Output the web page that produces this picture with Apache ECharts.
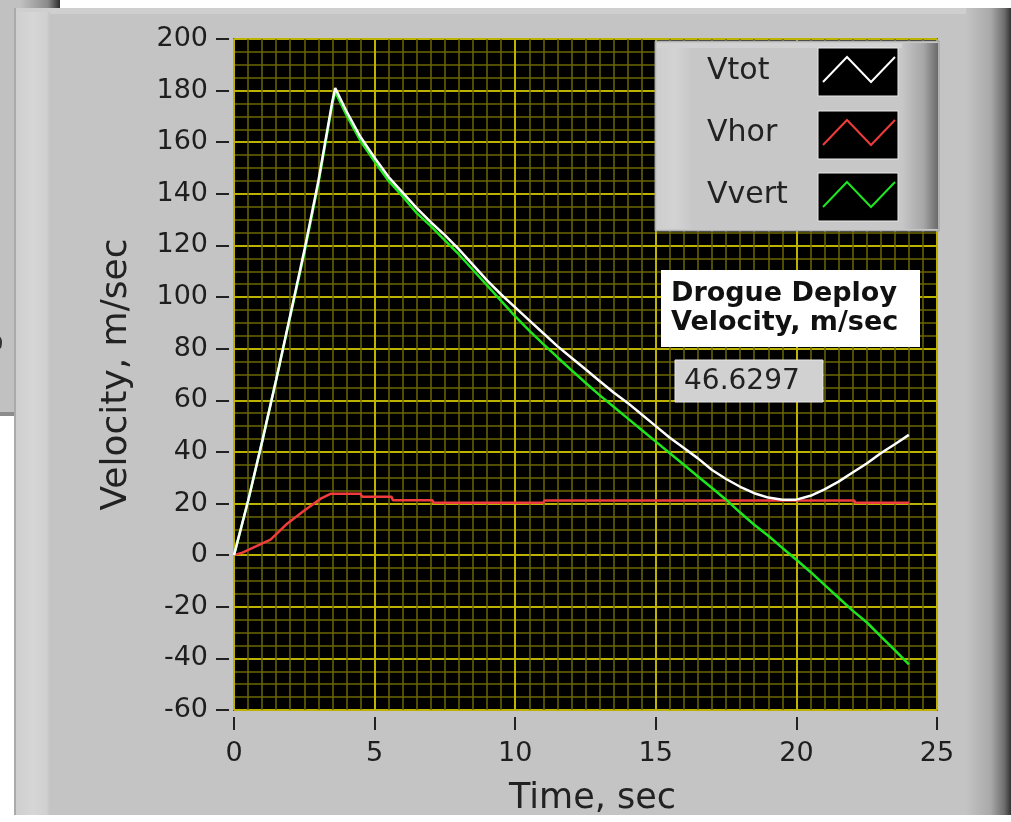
<!DOCTYPE html>
<html><head><meta charset="utf-8">
<script src="https://cdn.jsdelivr.net/npm/echarts@6/dist/echarts.min.js"></script>
<style>html,body{margin:0;padding:0;background:#fff}#c{width:1011px;height:822px}</style>
</head><body><div id="c"></div>
<script>
// ---- data ----
const timeMain = [0,0.5,1,1.5,2,2.5,3,3.5,3.6,4,4.5,5,5.5,6,6.5,7,7.5,8,8.5,9,9.5,10,10.5,11,11.5,12,12.5,13,13.5,14,14.5,15,15.5,16,16.5,17,17.5,18,18.5,19,19.5,20,20.5,21,21.5,22,22.5,23,23.5,24];
const vtot  = [0,21,44,68,93,118,145,176,181,172,162,154,146.5,140.5,134.5,129,124,118.5,112.5,106.5,101,96,91,86,81,76.5,72,67.5,63,59,54.5,50,45.5,41.5,37.5,33,29.5,26.5,24,22.3,21.5,21.5,23,25.5,28.5,32,35.5,39.5,43,46.6];
const vvert = [0,21,44,68,92.5,117,144,175,179.5,170.5,160.5,152.5,145,139,132.5,127.5,122,116.5,110.5,104.5,98.5,92.5,87,81.8,76.7,71.7,66.8,62,57.5,53,48.5,44,39.5,35,30.5,26,21.5,16.5,11.8,7.5,2.8,-1.8,-6.5,-11.5,-16.5,-21.5,-26,-31.5,-36.8,-42.3];
const timeHor = [0,0.3,0.7,1.3,1.9,2.5,3.1,3.45,4.5,4.55,5.6,5.65,7.05,7.1,11.0,11.05,22.05,22.1,24];
const vhor    = [0,1,3,6,12.3,17.3,22,23.8,23.8,22.6,22.6,21.3,21.3,20.3,20.3,21.2,21.2,20.3,20.3];
const seriesNames = ['Vtot','Vhor','Vvert'];
const seriesColors = ['#ffffff','#f03c3c','#1ee61e'];
const yTicks = {min:-60, max:200, step:20};
const xTicks = {min:0, max:25, step:5};
const drogueLabel = ['Drogue Deploy','Velocity, m/sec'];
const drogueVelocity = '46.6297';

const pair = (t, v) => t.map((x, i) => [x, v[i]]);
const FONT = 'DejaVu Sans';
const LG = echarts.graphic.LinearGradient;

const graphic = [
  // background window behind
  {type:'rect', z:-100, shape:{x:0,y:0,width:60,height:415}, style:{fill:'#c1c1c1'}},
  {type:'rect', z:-99, shape:{x:20,y:0,width:40,height:8}, style:{fill:new LG(0,0,1,0,[{offset:0,color:'#c1c1c1'},{offset:0.7,color:'#8a8a8a'},{offset:1,color:'#2a2a2a'}])}},
  {type:'rect', z:-99, shape:{x:0,y:412,width:15,height:4}, style:{fill:'#8c8c8c'}},
  {type:'text', z:-98, x:-6, y:342, rotation:Math.PI/2, style:{text:'s', font:'30px "DejaVu Sans"', fill:'#333', align:'center', verticalAlign:'middle'}},
  // main panel
  {type:'rect', z:-90, shape:{x:14,y:8,width:997,height:807}, style:{fill:'#c4c4c4'}},
  {type:'rect', z:-89, shape:{x:14,y:8,width:997,height:6}, style:{fill:'#cfcfcf'}},
  {type:'rect', z:-89, shape:{x:14,y:8,width:2,height:807}, style:{fill:'#aaaaaa'}},
  {type:'rect', z:-88, shape:{x:16,y:12,width:34,height:803}, style:{fill:new LG(0,0,1,0,[{offset:0,color:'#cfcfcf'},{offset:0.5,color:'#d6d6d6'},{offset:0.9,color:'#d0d0d0'},{offset:1,color:'#c4c4c4'}])}},
  {type:'rect', z:-88, shape:{x:966,y:8,width:45,height:807}, style:{fill:new LG(0,0,1,0,[{offset:0,color:'#c4c4c4'},{offset:0.55,color:'#a9a9a9'},{offset:0.85,color:'#6e6e6e'},{offset:1,color:'#333333'}])}},
  // legend box
  {type:'rect', z:50, shape:{x:655,y:41,width:284,height:190}, style:{fill:'#c7c7c7', stroke:'#9a9a9a', lineWidth:1}},
  {type:'rect', z:51, shape:{x:657,y:43,width:34,height:186}, style:{fill:new LG(0,0,1,0,[{offset:0,color:'#cdcdcd'},{offset:0.5,color:'#d3d3d3'},{offset:1,color:'#c9c9c9'}])}},
  {type:'rect', z:51, shape:{x:657,y:43,width:280,height:5}, style:{fill:'#d2d2d2'}},
  {type:'rect', z:51, shape:{x:902,y:43,width:36,height:186}, style:{fill:new LG(0,0,1,0,[{offset:0,color:'#c7c7c7'},{offset:0.6,color:'#a6a6a6'},{offset:1,color:'#6a6a6a'}])}},
  // annotation
  {type:'rect', z:50, shape:{x:661,y:270,width:259,height:77}, style:{fill:'#ffffff'}},
  {type:'text', z:52, x:671, y:294, style:{text:drogueLabel[0], font:'bold 27px "DejaVu Sans"', fill:'#111', verticalAlign:'middle'}},
  {type:'text', z:52, x:671, y:323, style:{text:drogueLabel[1], font:'bold 27px "DejaVu Sans"', fill:'#111', verticalAlign:'middle'}},
  {type:'rect', z:50, shape:{x:675,y:360,width:148,height:42}, style:{fill:'#d1d1d1', stroke:'#e6e6e6', lineWidth:1}},
  {type:'text', z:52, x:684, y:382, style:{text:drogueVelocity, font:'28px "DejaVu Sans"', fill:'#222', verticalAlign:'middle'}}
];
const swTop = [48,111,173];
const txtY = [71,133,195];
seriesNames.forEach((n,i)=>{
  graphic.push({type:'text', z:52, x:707, y:txtY[i], style:{text:n, font:'30px "DejaVu Sans"', fill:'#222', verticalAlign:'middle'}});
  graphic.push({type:'rect', z:52, shape:{x:818,y:swTop[i],width:80,height:48}, style:{fill:'#000', stroke:'#e8e8e8', lineWidth:1}});
  const y0 = swTop[i];
  graphic.push({type:'polyline', z:53, shape:{points:[[823,y0+34],[847,y0+9],[871,y0+34],[895,y0+9]]}, style:{stroke:seriesColors[i], lineWidth:2, fill:null}});
});

const chart = echarts.init(document.getElementById('c'), null, {renderer:'canvas'});
chart.setOption({
  backgroundColor:'#ffffff',
  animation:false,
  textStyle:{fontFamily:FONT},
  grid:{left:234, right:74, top:39, bottom:112, show:true, backgroundColor:'#000000', borderColor:'#5a5a5a', borderWidth:2, containLabel:false},
  xAxis:{
    type:'value', min:xTicks.min, max:xTicks.max, interval:xTicks.step, offset:7,
    name:'Time, sec', nameLocation:'middle', nameGap:64,
    nameTextStyle:{fontSize:35, color:'#222', fontFamily:FONT, padding:[0,0,0,14]},
    axisLine:{show:false, onZero:false},
    axisTick:{show:true, length:13, lineStyle:{color:'#222', width:2}},
    axisLabel:{fontSize:27, color:'#1e1e1e', margin:23, fontFamily:FONT},
    splitLine:{show:true, lineStyle:{color:'#bdb200', width:2}},
    minorTick:{show:false, splitNumber:10},
    minorSplitLine:{show:true, lineStyle:{color:'#6b6500', width:1.5}}
  },
  yAxis:{
    type:'value', min:yTicks.min, max:yTicks.max, interval:yTicks.step, offset:5,
    name:'Velocity, m/sec', nameLocation:'middle', nameGap:94,
    nameTextStyle:{fontSize:36, color:'#222', fontFamily:FONT},
    axisLine:{show:false, onZero:false},
    axisTick:{show:true, length:13, lineStyle:{color:'#222', width:2}},
    axisLabel:{fontSize:27, color:'#1e1e1e', margin:21, fontFamily:FONT},
    splitLine:{show:true, lineStyle:{color:'#bdb200', width:2}},
    minorTick:{show:false, splitNumber:4},
    minorSplitLine:{show:true, lineStyle:{color:'#6b6500', width:1.5}}
  },
  series:[
    {name:seriesNames[1], type:'line', data:pair(timeHor, vhor), showSymbol:false, z:3, lineStyle:{color:seriesColors[1], width:2.5}},
    {name:seriesNames[2], type:'line', data:pair(timeMain, vvert), showSymbol:false, z:4, lineStyle:{color:seriesColors[2], width:2.5}},
    {name:seriesNames[0], type:'line', data:pair(timeMain, vtot), showSymbol:false, z:5, lineStyle:{color:seriesColors[0], width:2.5}}
  ],
  graphic:graphic
});
</script></body></html>
